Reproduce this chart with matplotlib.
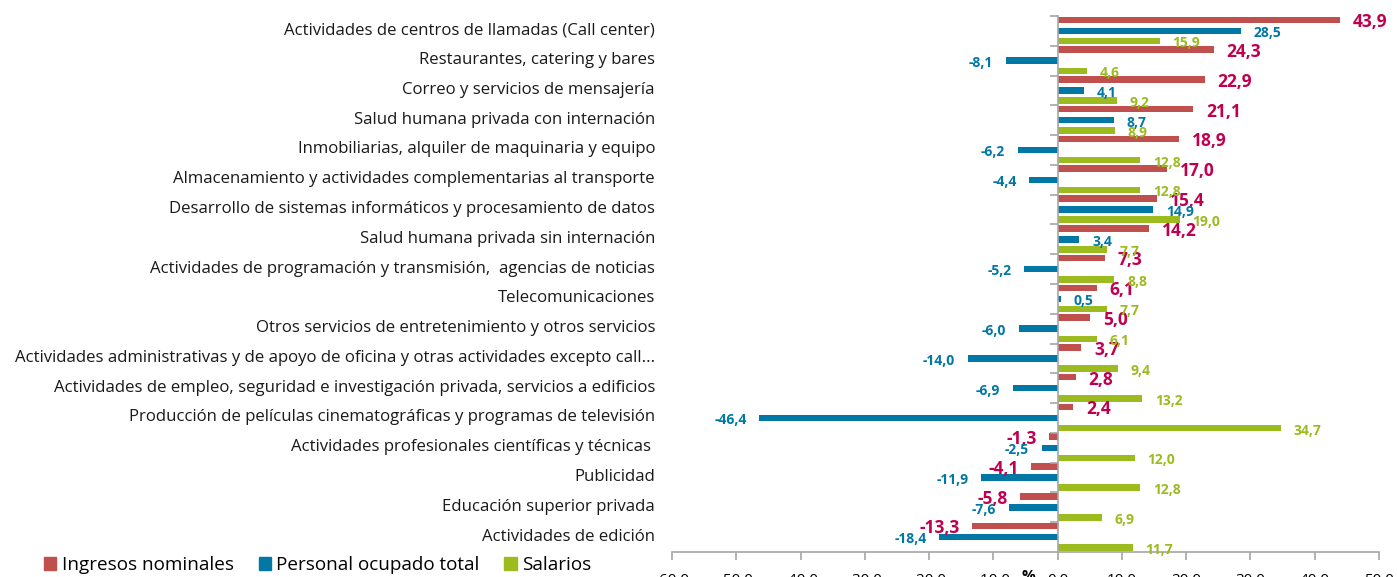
import matplotlib
matplotlib.use("Agg")
import matplotlib.pyplot as plt
import numpy as np
from matplotlib.patches import Patch
from matplotlib.transforms import blended_transform_factory

plt.rcParams["font.family"] = ["Open Sans", "DejaVu Sans"]

# ---- data ------------------------------------------------------------------

categories = [
    "Actividades de centros de llamadas (Call center)",
    "Restaurantes, catering y bares",
    "Correo y servicios de mensajería",
    "Salud humana privada con internación",
    "Inmobiliarias, alquiler de maquinaria y equipo",
    "Almacenamiento y actividades complementarias al transporte",
    "Desarrollo de sistemas informáticos y procesamiento de datos",
    "Salud humana privada sin internación",
    "Actividades de programación y transmisión,  agencias de noticias",
    "Telecomunicaciones",
    "Otros servicios de entretenimiento y otros servicios",
    "Actividades administrativas y de apoyo de oficina y otras actividades excepto call...",
    "Actividades de empleo, seguridad e investigación privada, servicios a edificios",
    "Producción de películas cinematográficas y programas de televisión",
    "Actividades profesionales científicas y técnicas ",
    "Publicidad",
    "Educación superior privada",
    "Actividades de edición",
]
ingresos = [43.9, 24.3, 22.9, 21.1, 18.9, 17.0, 15.4, 14.2, 7.3, 6.1, 5.0, 3.7,
            2.8, 2.4, -1.3, -4.1, -5.8, -13.3]
personal = [28.5, -8.1, 4.1, 8.7, -6.2, -4.4, 14.9, 3.4, -5.2, 0.5, -6.0, -14.0,
            -6.9, -46.4, -2.5, -11.9, -7.6, -18.4]
salarios = [15.9, 4.6, 9.2, 8.9, 12.8, 12.8, 19.0, 7.7, 8.8, 7.7, 6.1, 9.4,
            13.2, 34.7, 12.0, 12.8, 6.9, 11.7]
series_names = ["Ingresos nominales", "Personal ocupado total", "Salarios"]
x_ticks = [-60, -50, -40, -30, -20, -10, 0, 10, 20, 30, 40, 50]

# ---- style -----------------------------------------------------------------

bar_colors = ["#C0504D", "#0077A5", "#9BBB1F"]
text_colors = ["#C0004F", "#0077A5", "#9BBB1F"]
text_sizes = [12.5, 10, 10]
offsets = [-0.37, 0.0, 0.34]
bar_h = 0.22

fig = plt.figure(figsize=(13.97, 5.77), dpi=100)
ax = fig.add_axes([672 / 1397, 1 - 552 / 577, 707 / 1397, 536 / 577])

y = np.arange(len(categories))
for vals, off, bc, tc, ts in zip([ingresos, personal, salarios], offsets,
                                 bar_colors, text_colors, text_sizes):
    ax.barh(y + off, vals, height=bar_h, color=bc)
    for yi, v in zip(y, vals):
        gap = 2.0
        ax.text(v + gap if v >= 0 else v - gap, yi + off + 0.08,
                f"{v:.1f}".replace(".", ","), color=tc, fontsize=ts,
                fontweight="bold", ha="left" if v >= 0 else "right",
                va="center")

ax.set_xlim(-60, 50)
ax.set_ylim(len(categories) - 0.5, -0.5)

gray = "#A6A6A6"
for s in ["top", "right"]:
    ax.spines[s].set_visible(False)
ax.spines["left"].set_position(("data", 0))
ax.spines["left"].set_color(gray)
ax.spines["bottom"].set_color(gray)
ax.spines["left"].set_linewidth(1.2)
ax.spines["bottom"].set_linewidth(1.2)

ax.set_yticks(np.arange(len(categories)) - 0.5)
ax.set_yticklabels([])
ax.tick_params(axis="y", length=6, color=gray, width=1.2)
ax.set_xticks(x_ticks)
ax.set_xticklabels([f"{t:.1f}".replace(".", ",") for t in x_ticks], fontsize=11)
ax.tick_params(axis="x", length=6, color=gray, width=1.2, pad=9)

# category labels sit left of the plot area, not at the zero line
trans = blended_transform_factory(fig.transFigure, ax.transData)
for yi, cat in zip(y, categories):
    ax.text(655 / 1397, yi - 0.02, cat, transform=trans, ha="right",
            va="center", fontsize=12.1, color="#1a1a1a")

fig.text(1028 / 1397, 1 - 576 / 577, "%", fontsize=11, fontweight="bold",
         ha="center", va="center")

handles = [Patch(color=c) for c in bar_colors]
fig.legend(handles, series_names, ncol=3, frameon=False, loc="center left",
           bbox_to_anchor=(44 / 1397, 1 - 565 / 577), fontsize=13.6,
           handlelength=0.65, handleheight=0.65, handletextpad=0.3,
           columnspacing=1.3, borderpad=0, borderaxespad=0)

fig.savefig("out.png", dpi=100)
